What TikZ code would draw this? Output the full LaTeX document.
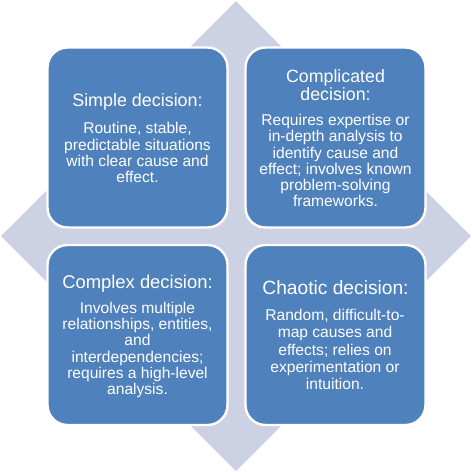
\documentclass[tikz,border=0pt]{standalone}
\usepackage{fontspec}
\setmainfont{Liberation Sans}
\definecolor{boxblue}{RGB}{79,129,189}
\definecolor{diamcol}{RGB}{204,209,228}
\begin{document}
\begin{tikzpicture}[x=1pt,y=-1pt,
  quad/.style={rectangle, rounded corners=20pt, fill=boxblue, draw=white, line width=2.4pt,
    minimum width=180pt, minimum height=180pt, inner sep=0pt},
  ttl/.style={text=white, align=center, inner sep=0pt},
  bodytxt/.style={text=white, align=center, inner sep=0pt, font=\fontsize{15.6}{16.1}\selectfont}]
\useasboundingbox (0,0) rectangle (472,472);
\fill[diamcol] (236,1) -- (471,236) -- (236,471) -- (1,236) -- cycle;
\node[quad] (tl) at (137.5,137.5) {};
\node[quad] (tr) at (335.5,137.5) {};
\node[quad] (bl) at (137.5,335) {};
\node[quad] (br) at (335.5,335) {};
\node[ttl, font=\fontsize{17.9}{18}\selectfont] (tlt) at (137.5,101.5) {Simple decision:};
\node[bodytxt] (tlb) at (137.5,152.5) {Routine, stable,\\ predictable situations\\ with clear cause and\\ effect.};
\node[ttl, font=\fontsize{17.8}{18}\selectfont] (trt) at (335.5,85.5) {Complicated\\ decision:};
\node[bodytxt] (trb) at (335.5,160.5) {Requires expertise or\\ in-depth analysis to\\ identify cause and\\ effect; involves known\\ problem-solving\\ frameworks.};
\node[ttl, font=\fontsize{18.4}{18}\selectfont] (blt) at (137.5,284) {Complex decision:};
\node[bodytxt] (blb) at (137.5,350) {Involves multiple\\ relationships, entities,\\ and\\ interdependencies;\\ requires a high-level\\ analysis.};
\node[ttl, font=\fontsize{19.2}{18}\selectfont] (brt) at (335.5,288) {Chaotic decision:};
\node[bodytxt, font=\fontsize{15.6}{17.2}\selectfont] (brb) at (335,349.5) {Random, difficult-to-\\ map causes and\\ effects; relies on\\ experimentation or\\ intuition.};
\end{tikzpicture}
\end{document}
